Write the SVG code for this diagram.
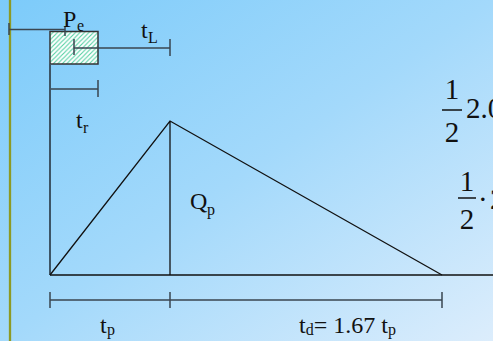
<svg xmlns="http://www.w3.org/2000/svg" width="493" height="341" viewBox="0 0 493 341">
<defs>
<linearGradient id="bg" x1="0" y1="0" x2="1" y2="1">
<stop offset="0" stop-color="#7ccbfa"/>
<stop offset="0.5" stop-color="#a3d9fb"/>
<stop offset="1" stop-color="#dcedfc"/>
</linearGradient>
<pattern id="hatch" width="4.5" height="4.5" patternUnits="userSpaceOnUse">
<rect width="4.5" height="4.5" fill="#ffffff"/>
<path d="M-1,1 l2,-2 M0,4.5 l4.5,-4.5 M3.5,5.5 l2,-2" stroke="#52d0a2" stroke-width="1.1"/>
</pattern>
<style>
.t{font-family:"Liberation Serif","Times New Roman",serif;fill:#111;font-size:24px}
.s{font-size:16px}
.f{font-size:29px}
.dim{stroke:#3a4650;stroke-width:1.5;fill:none}
.ln{stroke:#111;stroke-width:1.3;fill:none}
</style>
</defs>
<rect width="493" height="341" fill="url(#bg)"/>
<line x1="10" y1="0" x2="10" y2="341" stroke="#8d9a25" stroke-width="2.3"/>
<g id="rainfall">
<rect x="50" y="31.5" width="48" height="32.5" fill="url(#hatch)" stroke="#333" stroke-width="1.5"/>
</g>
<g id="connectors">
<path class="dim" d="M9,29.5 H65 M9,23 V35 M65,26 V36"/>
<path class="dim" d="M74,48 H170 M74,39 V55 M170,39 V56"/>
<path class="dim" d="M50,89 H98 M98,80 V97"/>
<path d="M50,64 V275" stroke="#3d5566" stroke-width="2" fill="none"/>
<path class="ln" d="M50,275 H493"/>
<path class="ln" d="M50,275 L170,121 L442,275 M170,121 V275"/>
<path class="dim" d="M50,300 H442 M50,292 V308 M170,292 V308 M442,292 V308"/>
</g>
<g id="Pe"><text class="t" x="63" y="26.5">P<tspan class="s" x="77" y="31">e</tspan></text></g>
<g id="tL"><text class="t" x="141" y="38">t<tspan class="s" x="148" y="43">L</tspan></text></g>
<g id="tr"><text class="t" x="76" y="128">t<tspan class="s" x="83" y="132.5">r</tspan></text></g>
<g id="Qp"><text class="t" x="190" y="209">Q<tspan class="s" x="207" y="214.5">p</tspan></text></g>
<g id="tp"><text class="t" x="100" y="333">t<tspan class="s" x="107" y="335">p</tspan></text></g>
<g id="td"><text class="t" x="299" y="333">t<tspan class="s" dy="2">d</tspan><tspan dy="-2">= 1.67 t</tspan><tspan class="s" dy="2">p</tspan></text></g>
<g id="formula1">
<text class="t f" x="452" y="99" text-anchor="middle">1</text>
<line x1="442" y1="110" x2="462" y2="110" stroke="#111" stroke-width="1.5"/>
<text class="t f" x="452" y="142" text-anchor="middle">2</text>
<text class="t f" x="466" y="118">2.0</text>
</g>
<g id="formula2">
<text class="t f" x="467" y="191" text-anchor="middle">1</text>
<line x1="458" y1="198" x2="476" y2="198" stroke="#111" stroke-width="1.5"/>
<text class="t f" x="467" y="229" text-anchor="middle">2</text>
<text class="t f" x="478" y="209">·<tspan x="490">2</tspan></text>
</g>
</svg>
